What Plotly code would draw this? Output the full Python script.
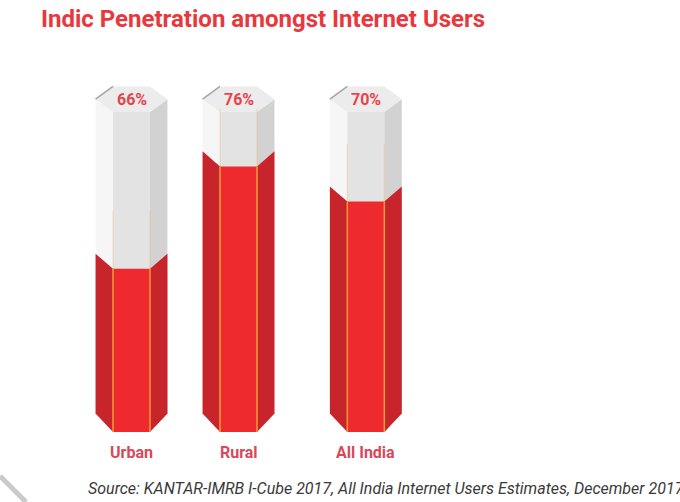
import plotly.graph_objects as go

# data
categories = ["Urban", "Rural", "All India"]
values = [66, 76, 70]               # printed percentages
fill_level = [51, 83, 72]           # how high the red "liquid" is drawn (% of tube)

# layout of the tubes (axis units: x = column slots, y = % of tube height)
centers = [0, 1, 2.19]
half_w = 0.336      # full half width of the prism
front_w = 0.173     # half width of front face
d_side = 4.7        # perspective drop of the side edges
d_bot = 5.8
d_top = 4.0
top = 100

RED_FRONT = "#ee2a2e"
RED_SIDE = "#c8242c"
GRAY_LEFT = "#f6f6f6"
GRAY_FRONT = "#e3e3e3"
GRAY_RIGHT = "#d2d2d2"
CAP = "#ececec"
TXT_RED = "#e8434b"
FONT = "Roboto"

fig = go.Figure()


def poly(xs, ys, color):
    fig.add_trace(go.Scatter(x=xs + [xs[0]], y=ys + [ys[0]], fill="toself",
                             fillcolor=color, mode="lines", line=dict(width=0),
                             hoverinfo="skip", showlegend=False))


def seg(xs, ys, color, w):
    fig.add_trace(go.Scatter(x=xs, y=ys, mode="lines", line=dict(color=color, width=w),
                             hoverinfo="skip", showlegend=False))


for c, lvl in zip(centers, fill_level):
    l, fl, fr, r = c - half_w, c - front_w, c + front_w, c + half_w
    # empty tube
    poly([l, fl, fl, l], [d_bot, 0, top, top + d_top], GRAY_LEFT)
    poly([fl, fr, fr, fl], [0, 0, top, top], GRAY_FRONT)
    poly([fr, r, r, fr], [0, d_bot, top + d_top, top], GRAY_RIGHT)
    poly([l, fl, fr, r, fr, fl],
         [top + d_top, top, top, top + d_top, top + 2 * d_top, top + 2 * d_top], CAP)
    seg([l, fl], [top + d_top, top + 2 * d_top], "#a5a5a5", 1.5)
    # red fill
    poly([l, fl, fl, l], [d_bot, 0, lvl, lvl + d_side], RED_SIDE)
    poly([fl, fr, fr, fl], [0, 0, lvl, lvl], RED_FRONT)
    poly([fr, r, r, fr], [0, d_bot, lvl + d_side, lvl], RED_SIDE)
    seg([fl, fl], [0, lvl], "#f59a3a", 1.5)
    seg([fr, fr], [0, lvl], "#f59a3a", 1.5)
    # faint edges in the empty part
    seg([fl, fl], [lvl, lvl + 18], "rgba(245,170,90,0.4)", 1)
    seg([fr, fr], [lvl, lvl + 18], "rgba(245,170,90,0.4)", 1)

annotations = []
for c, v, name in zip(centers, values, categories):
    annotations.append(dict(x=c, y=top + d_top, xref="x", yref="y", text=f"<b>{v}%</b>",
                            showarrow=False, yanchor="middle",
                            font=dict(family=FONT, size=16, color=TXT_RED)))
    annotations.append(dict(x=c, y=-6.3, xref="x", yref="y", text=f"<b>{name}</b>",
                            showarrow=False, yanchor="middle",
                            font=dict(family=FONT, size=16, color="#d9485a")))

annotations.append(dict(x=39 / 680, y=1 - 19 / 502, xref="paper", yref="paper",
                        text="<b>Indic Penetration amongst Internet Users</b>",
                        showarrow=False, xanchor="left", yanchor="middle",
                        font=dict(family=FONT, size=24, color="#e8383d")))
annotations.append(dict(x=86 / 680, y=1 - 488 / 502, xref="paper", yref="paper",
                        text="<i>Source: KANTAR-IMRB I-Cube 2017, All India Internet Users Estimates, December 2017</i>",
                        showarrow=False, xanchor="left", yanchor="middle",
                        font=dict(family=FONT, size=16, color="#3a3a3a")))

fig.update_layout(
    width=680, height=502,
    margin=dict(l=0, r=0, t=0, b=0),
    paper_bgcolor="white", plot_bgcolor="white",
    xaxis=dict(range=[-131.5 / 107, (680 - 131.5) / 107], visible=False, fixedrange=True),
    yaxis=dict(range=[-70 / 3.2, 432 / 3.2], visible=False, fixedrange=True),
    annotations=annotations,
    shapes=[dict(type="line", xref="paper", yref="paper", x0=0, y0=1 - 476 / 502,
                 x1=26 / 680, y1=0, line=dict(color="rgba(150,150,150,0.5)", width=5))],
)

# the default page has an 8px body margin; drop it so the figure fills the window
fig.write_html("out.html", config={"displayModeBar": False},
               post_script="document.body.style.margin='0';document.body.style.overflow='hidden';")
